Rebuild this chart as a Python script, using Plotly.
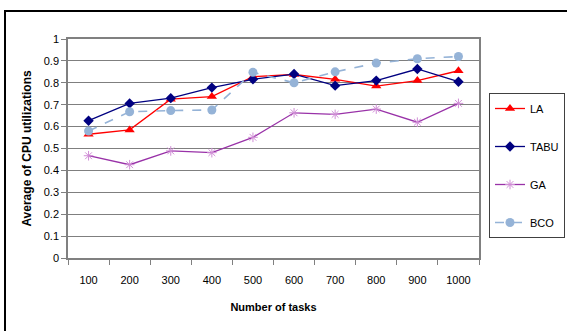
import plotly.graph_objects as go

tasks = ["100", "200", "300", "400", "500", "600", "700", "800", "900", "1000"]
la = [0.565, 0.585, 0.725, 0.737, 0.828, 0.838, 0.816, 0.785, 0.81, 0.855]
tabu = [0.627, 0.706, 0.73, 0.778, 0.816, 0.84, 0.787, 0.81, 0.863, 0.805]
ga = [0.467, 0.426, 0.489, 0.481, 0.551, 0.663, 0.656, 0.68, 0.62, 0.706]
bco = [0.58, 0.668, 0.673, 0.676, 0.848, 0.80, 0.85, 0.89, 0.91, 0.92]
y_ticks = [0, 0.1, 0.2, 0.3, 0.4, 0.5, 0.6, 0.7, 0.8, 0.9, 1]
y_labels = ["0", "0.1", "0.2", "0.3", "0.4", "0.5", "0.6", "0.7", "0.8", "0.9", "1"]

FONT = "Liberation Sans, Arial, sans-serif"

fig = go.Figure()
fig.add_trace(go.Scatter(
    x=tasks, y=la, name="LA", mode="lines+markers", legendgroup="a",
    line=dict(color="#FF0000", width=1.3),
    marker=dict(symbol="triangle-up", size=9, color="#FF0000"),
))
fig.add_trace(go.Scatter(
    x=tasks, y=tabu, name="TABU", mode="lines+markers", legendgroup="b",
    line=dict(color="#000080", width=1.3),
    marker=dict(symbol="diamond", size=8, color="#000080"),
))
fig.add_trace(go.Scatter(
    x=tasks, y=ga, name="GA", mode="lines+markers", legendgroup="c",
    line=dict(color="#9932A8", width=1.3),
    marker=dict(symbol="asterisk-open", size=8, color="#D08ED6",
                line=dict(color="#C57BCB", width=1)),
))
fig.add_trace(go.Scatter(
    x=tasks, y=bco, name="BCO", mode="lines+markers", legendgroup="d",
    line=dict(color="#95B3D7", width=1.6, dash="dash"),
    marker=dict(symbol="circle", size=9, color="#95B3D7"),
))

# outer frame of the figure (partially off-canvas on the right and bottom)
fig.add_shape(type="rect", xref="paper", yref="paper",
              x0=(5 - 68) / 411, x1=(700 - 68) / 411,
              y0=(258 - 400) / 219, y1=(258 - 11) / 219,
              line=dict(color="#000000", width=2), layer="below")

fig.update_layout(
    width=567, height=331,
    margin=dict(l=68, r=88, t=39, b=73, autoexpand=False),
    paper_bgcolor="white", plot_bgcolor="white",
    font=dict(family=FONT, size=11, color="#000000"),
    showlegend=True,
    legend=dict(
        x=(489 - 68) / 411, y=(258 - 93) / 219, xanchor="left", yanchor="top",
        bordercolor="#404040", borderwidth=1, bgcolor="white",
        font=dict(family=FONT, size=11),
        traceorder="grouped", tracegroupgap=19, itemwidth=30,
    ),
    xaxis=dict(
        type="category", tickson="boundaries", ticks="outside", ticklen=5,
        tickcolor="#808080", showline=True, linecolor="#808080", linewidth=1.5,
        mirror=True, showgrid=False, ticklabelstandoff=11,
        tickfont=dict(family=FONT, size=11),
        title=dict(text="<b>Number of tasks</b>", standoff=18,
                   font=dict(family=FONT, size=11)),
        range=[-0.5, 9.5],
    ),
    yaxis=dict(
        range=[0, 1], tickvals=y_ticks, ticktext=y_labels,
        ticks="outside", ticklen=5, tickcolor="#808080",
        showline=True, linecolor="#808080", linewidth=1.5, mirror=True,
        showgrid=True, gridcolor="#7F7F7F", gridwidth=1,
        zeroline=False, tickfont=dict(family=FONT, size=11),
        title=dict(text="<b>Average of CPU utilizations</b>", standoff=10,
                   font=dict(family=FONT, size=12)),
    ),
)

fig.write_html("out.html")
